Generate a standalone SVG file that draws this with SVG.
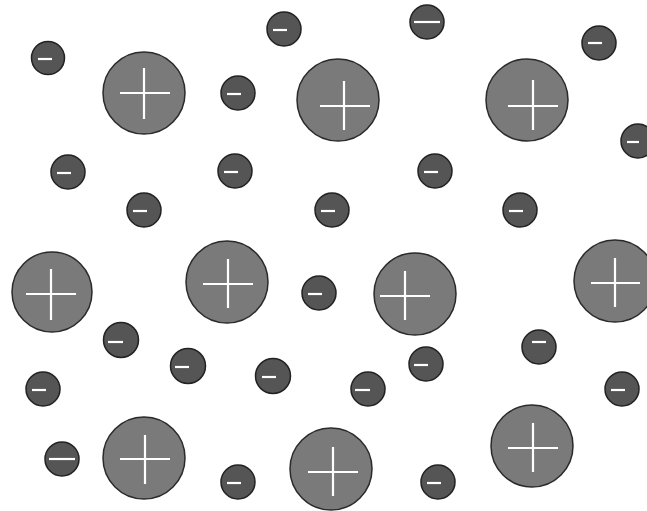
<svg xmlns="http://www.w3.org/2000/svg" width="647" height="511" viewBox="0 0 647 511">
<style>
.big{fill:#7a7a7a;stroke:#2a2a2a;stroke-width:1.5}
.small{fill:#555;stroke:#222;stroke-width:1.5}
.sign{stroke:#fff;stroke-width:2.2;fill:none;stroke-linecap:butt}
</style>
<rect width="647" height="511" fill="#fff"/>
<g id="cations">
<g id="p1"><circle class="big" cx="144" cy="93" r="41"/><path class="sign" d="M120 93H170M144 68V119"/></g>
<g id="p2"><circle class="big" cx="338" cy="100" r="41"/><path class="sign" d="M320 106H370M344 81V130"/></g>
<g id="p3"><circle class="big" cx="527" cy="100" r="41"/><path class="sign" d="M508 106H558M533 80V130"/></g>
<g id="p4"><circle class="big" cx="52" cy="292" r="40"/><path class="sign" d="M26 294H76M51 269V320"/></g>
<g id="p5"><circle class="big" cx="227" cy="282" r="41"/><path class="sign" d="M203 284H253M228 259V308"/></g>
<g id="p6"><circle class="big" cx="415" cy="294" r="41"/><path class="sign" d="M380 296H430M405 271V320"/></g>
<g id="p7"><circle class="big" cx="615" cy="281" r="41"/><path class="sign" d="M591 283H640M615 258V307"/></g>
<g id="p8"><circle class="big" cx="144" cy="458" r="41"/><path class="sign" d="M120 459H170M145 435V484"/></g>
<g id="p9"><circle class="big" cx="331" cy="469" r="41"/><path class="sign" d="M308 472H358M333 447V496"/></g>
<g id="p10"><circle class="big" cx="532" cy="446" r="41"/><path class="sign" d="M508 448H558M533 423V472"/></g>
</g>
<g id="anions">
<g id="m1"><circle class="small" cx="48" cy="58" r="16.5"/><path class="sign" d="M38 59H52"/></g>
<g id="m2"><circle class="small" cx="284" cy="29" r="17"/><path class="sign" d="M273 30H287"/></g>
<g id="m3"><circle class="small" cx="427" cy="22" r="17"/><path class="sign" d="M414 22H440"/></g>
<g id="m4"><circle class="small" cx="599" cy="43" r="17"/><path class="sign" d="M588 43H602"/></g>
<g id="m5"><circle class="small" cx="238" cy="93" r="17"/><path class="sign" d="M227 94H241"/></g>
<g id="m6"><circle class="small" cx="638" cy="141" r="17"/><path class="sign" d="M627 142H639"/></g>
<g id="m7"><circle class="small" cx="68" cy="172" r="17"/><path class="sign" d="M57 173H71"/></g>
<g id="m8"><circle class="small" cx="235" cy="171" r="17"/><path class="sign" d="M224 172H238"/></g>
<g id="m9"><circle class="small" cx="435" cy="171" r="17"/><path class="sign" d="M424 172H438"/></g>
<g id="m10"><circle class="small" cx="144" cy="210" r="17"/><path class="sign" d="M133 211H147"/></g>
<g id="m11"><circle class="small" cx="332" cy="210" r="17"/><path class="sign" d="M321 211H335"/></g>
<g id="m12"><circle class="small" cx="520" cy="210" r="17"/><path class="sign" d="M509 211H523"/></g>
<g id="m13"><circle class="small" cx="319" cy="293" r="17"/><path class="sign" d="M308 294H322"/></g>
<g id="m14"><circle class="small" cx="121" cy="340" r="17.5"/><path class="sign" d="M108 342H123"/></g>
<g id="m15"><circle class="small" cx="188" cy="366" r="17.5"/><path class="sign" d="M175 367H189"/></g>
<g id="m16"><circle class="small" cx="43" cy="389" r="17"/><path class="sign" d="M32 390H46"/></g>
<g id="m17"><circle class="small" cx="273" cy="376" r="17.5"/><path class="sign" d="M262 377H276"/></g>
<g id="m18"><circle class="small" cx="368" cy="389" r="17"/><path class="sign" d="M355 390H370"/></g>
<g id="m19"><circle class="small" cx="426" cy="364" r="17"/><path class="sign" d="M414 365H428"/></g>
<g id="m20"><circle class="small" cx="539" cy="347" r="17"/><path class="sign" d="M532 342H546"/></g>
<g id="m21"><circle class="small" cx="622" cy="389" r="17"/><path class="sign" d="M611 390H625"/></g>
<g id="m22"><circle class="small" cx="62" cy="459" r="17"/><path class="sign" d="M49 459H75"/></g>
<g id="m23"><circle class="small" cx="238" cy="482" r="17"/><path class="sign" d="M227 483H241"/></g>
<g id="m24"><circle class="small" cx="438" cy="482" r="17"/><path class="sign" d="M427 483H441"/></g>
</g>
</svg>
